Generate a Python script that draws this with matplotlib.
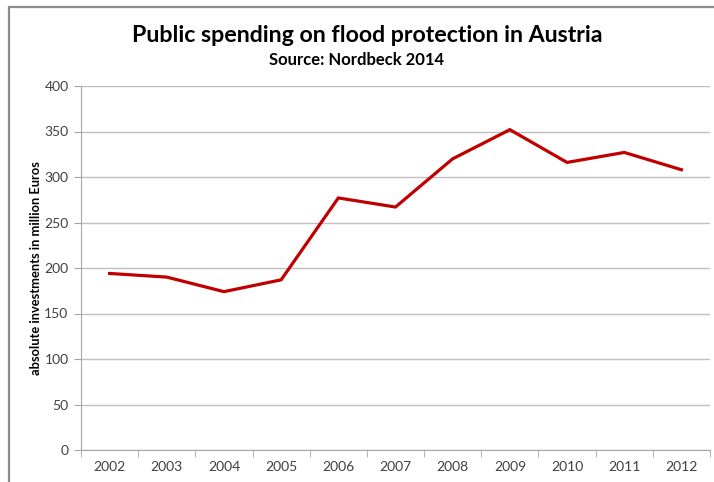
import matplotlib
matplotlib.use("Agg")
import matplotlib.pyplot as plt
from matplotlib.patches import Rectangle

# Daten
years = ["2002", "2003", "2004", "2005", "2006", "2007",
         "2008", "2009", "2010", "2011", "2012"]
spending = [194, 190, 174, 187, 277, 267, 320, 352, 316, 327, 308]
y_ticks = [0, 50, 100, 150, 200, 250, 300, 350, 400]

plt.rcParams['font.family'] = ['Lato', 'DejaVu Sans']

fig = plt.figure(figsize=(7.14, 4.82), dpi=100)
ax = fig.add_axes([81 / 714, 32 / 482, 629 / 714, 364 / 482])

# Rahmen des Diagrammbereichs (rechts/unten abgeschnitten)
fig.patches.append(Rectangle((9 / 714, -0.1), 1.2, (482 - 7) / 482 + 0.1,
                             transform=fig.transFigure, fill=False,
                             edgecolor='#8c8c8c', linewidth=1.6))

x = list(range(len(years)))
ax.plot(x, spending, color='#c00000', linewidth=2.3, solid_joinstyle='miter')

ax.set_xlim(-0.5, len(years) - 0.5)
ax.set_ylim(0, 400)
ax.set_yticks(y_ticks)
ax.set_xticks(x)
ax.set_xticklabels(years)
ax.set_xticks([i - 0.5 for i in range(len(years) + 1)], minor=True)

ax.grid(axis='y', color='#bfbfbf', linewidth=1)
ax.set_axisbelow(True)
for s in ['top', 'right']:
    ax.spines[s].set_visible(False)
ax.spines['left'].set_color('#a6a6a6')
ax.spines['bottom'].set_color('#a6a6a6')

ax.tick_params(axis='y', length=5, color='#a6a6a6', labelsize=10, labelcolor='#404040', pad=4)
ax.tick_params(axis='x', which='major', length=0, labelsize=10, labelcolor='#404040', pad=8)
ax.tick_params(axis='x', which='minor', length=5, color='#a6a6a6')

ax.set_ylabel('absolute investments in million Euros', fontsize=9.3, fontweight='bold')
ax.yaxis.set_label_coords(-0.062, 0.5)

fig.text(367 / 714, 1 - 35 / 482, 'Public spending on flood protection in Austria',
         ha='center', va='center', fontsize=16.7, fontweight='bold')
fig.text(357 / 714, 1 - 60 / 482, 'Source: Nordbeck 2014',
         ha='center', va='center', fontsize=12, fontweight='bold')

fig.savefig('out.png', dpi=100)
